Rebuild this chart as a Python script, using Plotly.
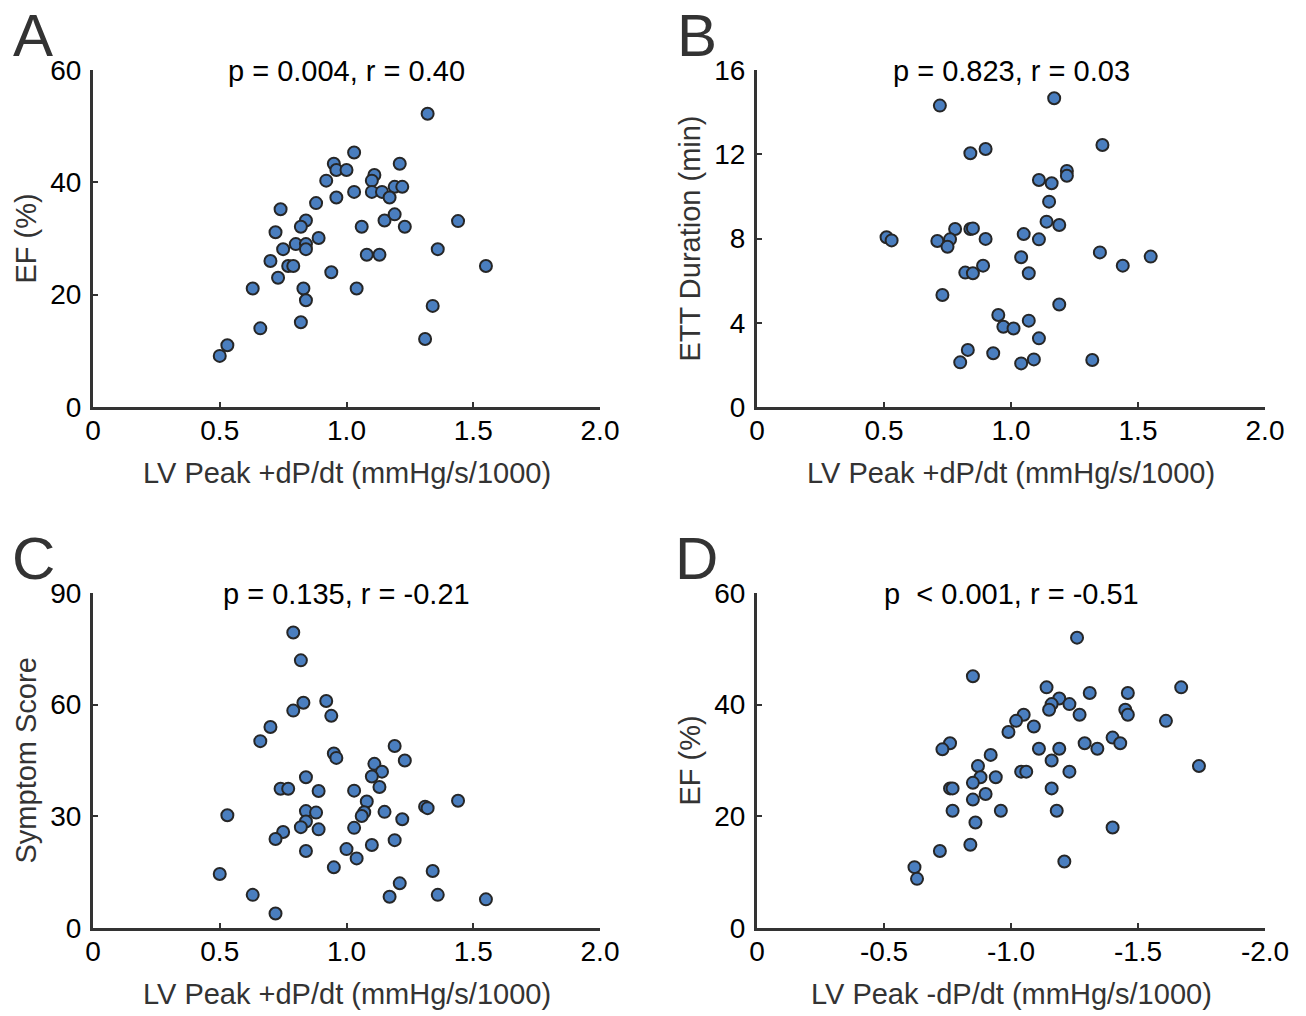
import plotly.graph_objects as go

# ---------------- data ----------------
a_x = [1.32, 1.03, 0.95, 0.96, 1.00, 1.21, 1.11, 1.10, 0.92, 1.03, 1.10, 1.14, 1.19, 1.22,
       1.17, 0.96, 0.88, 0.74, 0.84, 0.82, 1.15, 1.19, 1.44, 1.06, 1.23, 0.72, 0.89, 0.75,
       0.80, 0.84, 0.84, 0.70, 0.77, 0.79, 1.08, 1.13, 1.36, 1.55, 0.73, 0.94, 0.63, 0.83,
       1.04, 0.84, 1.34, 0.82, 0.66, 1.31, 0.53, 0.50]
a_y = [52.2, 45.3, 43.3, 42.2, 42.2, 43.3, 41.3, 40.3, 40.3, 38.3, 38.3, 38.3, 39.2, 39.2,
       37.3, 37.3, 36.3, 35.2, 33.2, 32.1, 33.2, 34.3, 33.1, 32.1, 32.1, 31.1, 30.1, 28.1,
       29.0, 29.0, 28.1, 26.0, 25.1, 25.1, 27.1, 27.1, 28.1, 25.1, 23.0, 24.0, 21.1, 21.1,
       21.1, 19.0, 18.0, 15.1, 14.0, 12.1, 11.0, 9.1]

b_x = [0.72, 1.17, 1.36, 0.84, 0.90, 1.22, 1.22, 1.11, 1.16, 1.15, 1.14, 1.19, 0.78, 0.84,
       0.85, 0.51, 0.53, 0.71, 0.76, 0.75, 0.90, 1.05, 1.11, 1.04, 1.35, 1.44, 1.55, 0.89,
       0.82, 0.85, 1.07, 0.73, 1.19, 0.95, 0.97, 1.01, 1.07, 1.11, 0.83, 0.80, 0.93, 1.04,
       1.09, 1.32]
b_y = [14.31, 14.66, 12.44, 12.05, 12.25, 11.21, 10.98, 10.78, 10.62, 9.75, 8.80, 8.64,
       8.45, 8.45, 8.48, 8.06, 7.91, 7.88, 7.96, 7.61, 7.98, 8.21, 7.96, 7.11, 7.34, 6.71,
       7.14, 6.71, 6.38, 6.35, 6.35, 5.32, 4.87, 4.37, 3.81, 3.73, 4.10, 3.26, 2.71, 2.12,
       2.55, 2.07, 2.26, 2.23]

c_x = [0.79, 0.82, 0.83, 0.79, 0.92, 0.94, 0.70, 0.66, 0.95, 0.96, 1.19, 1.23, 1.11, 1.14,
       1.10, 0.84, 1.13, 0.74, 0.77, 0.89, 1.03, 1.08, 1.44, 1.31, 1.32, 1.07, 1.06, 1.15,
       0.84, 0.88, 1.22, 0.53, 0.84, 0.82, 0.89, 1.03, 0.75, 0.72, 1.19, 1.10, 1.00, 0.84,
       1.04, 0.95, 1.34, 0.50, 1.21, 0.63, 1.36, 1.17, 1.55, 0.72]
c_y = [79.4, 71.9, 60.5, 58.4, 61.0, 57.0, 54.0, 50.2, 46.9, 45.7, 48.9, 45.0, 44.1, 42.0,
       40.7, 40.5, 37.9, 37.4, 37.4, 36.8, 36.9, 34.0, 34.2, 32.6, 32.2, 31.1, 30.1, 31.2,
       31.4, 31.0, 29.2, 30.3, 28.6, 27.1, 26.5, 26.9, 25.8, 23.9, 23.6, 22.3, 21.2, 20.7,
       18.7, 16.3, 15.3, 14.5, 12.0, 8.9, 8.9, 8.4, 7.7, 3.9]

d_x = [-1.26, -0.85, -1.14, -1.67, -1.31, -1.46, -1.19, -1.16, -1.23, -1.15, -1.45, -1.46,
       -1.27, -1.05, -1.02, -1.61, -1.09, -0.99, -0.76, -0.73, -1.40, -1.43, -1.29, -1.34,
       -1.11, -1.19, -0.92, -1.16, -0.87, -1.74, -1.04, -1.06, -1.23, -0.88, -0.94, -0.85,
       -0.76, -0.77, -1.16, -0.90, -0.85, -0.77, -0.96, -1.18, -0.86, -1.40, -0.84, -0.72,
       -1.21, -0.62, -0.63]
d_y = [52.0, 45.1, 43.1, 43.1, 42.1, 42.1, 41.1, 40.1, 40.1, 39.1, 39.1, 38.2, 38.2, 38.2,
       37.1, 37.1, 36.1, 35.1, 33.1, 32.0, 34.1, 33.1, 33.1, 32.1, 32.1, 32.1, 31.0, 30.0,
       29.0, 29.0, 28.0, 28.0, 28.0, 27.0, 27.0, 26.0, 25.0, 25.0, 25.0, 24.0, 23.0, 21.0,
       21.0, 21.0, 18.9, 18.0, 14.9, 13.8, 11.9, 10.9, 8.8]

pos_x_ticks = [0, 0.5, 1.0, 1.5, 2.0]
pos_x_text = ["0", "0.5", "1.0", "1.5", "2.0"]
neg_x_ticks = [0, -0.5, -1.0, -1.5, -2.0]
neg_x_text = ["0", "-0.5", "-1.0", "-1.5", "-2.0"]
ef_ticks = [0, 20, 40, 60]
ett_ticks = [0, 4, 8, 12, 16]
sym_ticks = [0, 30, 60, 90]

panel_letters = ["A", "B", "C", "D"]
panel_titles = ["p = 0.004, r = 0.40", "p = 0.823, r = 0.03",
                "p = 0.135, r = -0.21", "p  < 0.001, r = -0.51"]
x_titles = ["LV Peak +dP/dt (mmHg/s/1000)", "LV Peak +dP/dt (mmHg/s/1000)",
            "LV Peak +dP/dt (mmHg/s/1000)", "LV Peak -dP/dt (mmHg/s/1000)"]
y_titles = ["EF (%)", "ETT Duration (min)", "Symptom Score", "EF (%)"]

# ---------------- layout geometry ----------------
W, H = 1306, 1016
FONT = "Liberation Sans, Arial, Helvetica, sans-serif"
AX_COLOR = "#333333"
MARK_FILL = "#4a7ebf"
MARK_LINE = "#262626"

def px_x(v):
    return v / W

def px_y(v):
    return 1 - v / H

# plot-area pixel boxes: (left, right, top, bottom)
boxes = [(93, 600, 70, 407), (757, 1265, 70, 407),
         (93, 600, 593, 928), (757, 1265, 593, 928)]

fig = go.Figure()

datasets = [(a_x, a_y), (b_x, b_y), (c_x, c_y), (d_x, d_y)]
for i, (xs, ys) in enumerate(datasets):
    suffix = "" if i == 0 else str(i + 1)
    fig.add_trace(go.Scatter(
        x=xs, y=ys, mode="markers",
        xaxis="x" + suffix, yaxis="y" + suffix,
        marker=dict(size=12, color=MARK_FILL, line=dict(color=MARK_LINE, width=2)),
        showlegend=False, cliponaxis=False,
    ))

x_specs = [(pos_x_ticks, pos_x_text, [0, 2]),
           (pos_x_ticks, pos_x_text, [0, 2]),
           (pos_x_ticks, pos_x_text, [0, 2]),
           (neg_x_ticks, neg_x_text, [0, -2])]
y_specs = [(ef_ticks, [0, 60]), (ett_ticks, [0, 16]), (sym_ticks, [0, 90]), (ef_ticks, [0, 60])]

layout = dict(
    width=W, height=H,
    margin=dict(l=0, r=0, t=0, b=0, autoexpand=False),
    paper_bgcolor="white", plot_bgcolor="white",
    font=dict(family=FONT, color="black", size=28),
)

annotations = []
for i, (l, r, t, b) in enumerate(boxes):
    suffix = "" if i == 0 else str(i + 1)
    xv, xt, xr = x_specs[i]
    yv, yr = y_specs[i]
    common = dict(showline=True, linecolor=AX_COLOR, linewidth=3, showgrid=False,
                  zeroline=False, ticks="inside", ticklen=5, tickwidth=2,
                  tickcolor=AX_COLOR, tickfont=dict(family=FONT, size=28, color="black"),
                  fixedrange=True, automargin=False)
    layout["xaxis" + suffix] = dict(
        domain=[px_x(l), px_x(r)], range=xr, tickvals=xv, ticktext=xt,
        anchor="y" + suffix, ticklabelstandoff=-4, **common)
    layout["yaxis" + suffix] = dict(
        domain=[px_y(b), px_y(t)], range=yr, tickvals=yv,
        anchor="x" + suffix, ticklabelstandoff=3, **common)

    cx = (l + r) / 2
    cy = (t + b) / 2
    # panel title
    annotations.append(dict(text=panel_titles[i], xref="paper", yref="paper",
                            x=px_x(cx), y=px_y(t + 1), xanchor="center", yanchor="middle",
                            showarrow=False, font=dict(family=FONT, size=29, color="black")))
    # x title
    annotations.append(dict(text=x_titles[i], xref="paper", yref="paper",
                            x=px_x(cx), y=px_y(b + 66), xanchor="center", yanchor="middle",
                            showarrow=False, font=dict(family=FONT, size=29, color=AX_COLOR)))
    # y title
    annotations.append(dict(text=y_titles[i], xref="paper", yref="paper", textangle=-90,
                            x=px_x(l - 68), y=px_y(cy), xanchor="center", yanchor="middle",
                            showarrow=False, font=dict(family=FONT, size=29, color=AX_COLOR)))
    # panel letter
    annotations.append(dict(text=panel_letters[i], xref="paper", yref="paper",
                            x=px_x(l - 60), y=px_y(t - 35), xanchor="center", yanchor="middle",
                            showarrow=False, font=dict(family=FONT, size=60, color=AX_COLOR)))

layout["annotations"] = annotations
fig.update_layout(**layout)
fig.write_html("out.html", config={"displayModeBar": False},
               post_script="document.body.style.margin='0px';")
